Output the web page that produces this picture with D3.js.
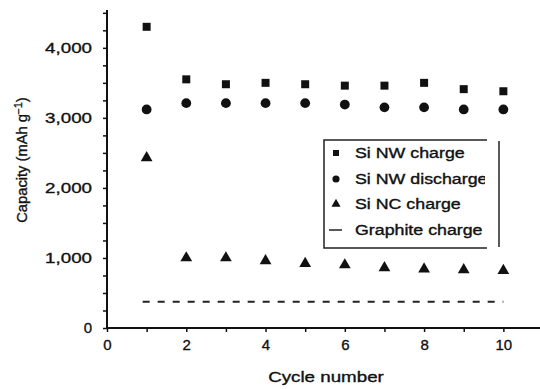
<!DOCTYPE html>
<html><head><meta charset="utf-8">
<script src="https://cdn.jsdelivr.net/npm/d3@7"></script>
<style>body{margin:0;background:#fff}text{font-family:"Liberation Sans",Arial,sans-serif;fill:#111;stroke:#111;stroke-width:0.35px}</style>
</head><body><svg id="c" width="540" height="389"></svg>
<script>
const cycles = [1,2,3,4,5,6,7,8,9,10];
const siNwCharge = [4300,3550,3480,3500,3480,3460,3460,3500,3410,3380];
const siNwDischarge = [3120,3210,3210,3210,3210,3190,3150,3150,3120,3120];
const siNcCharge = [2430,1000,1000,960,920,900,860,840,830,820];
const graphiteCharge = 375;
const graphiteRange = [0.9,10];
const xTicks = [0,2,4,6,8,10];
const yTicks = [0,1000,2000,3000,4000];
const legendLabels = ["Si NW charge","Si NW discharge","Si NC charge","Graphite charge"];

const svg = d3.select("#c");
const x = d3.scaleLinear().domain([0,11]).range([107,543]);
const y = d3.scaleLinear().domain([0,4540]).range([328,10]);

function widen(sel, f){ sel.each(function(){ const w=this.getComputedTextLength(); d3.select(this).attr("textLength",w*f).attr("lengthAdjust","spacingAndGlyphs"); }); }

// X axis
const xMinor = d3.range(0,11,1);
const xa = svg.append("g").attr("transform","translate(0,328)")
  .call(d3.axisBottom(x).tickValues(xMinor).tickSize(4).tickPadding(5)
    .tickFormat(d=>xTicks.includes(d)?d:""));
xa.select(".domain").attr("stroke","#111").attr("stroke-width",2).attr("d","M107,0H540");
xa.selectAll(".tick line").attr("stroke","#111").attr("stroke-width",1.5);
xa.selectAll(".tick text").attr("font-size",15).style("font-family","Liberation Sans, Arial").attr("dy","0.85em");

// Y axis
const yMinor = d3.range(0,4501,250);
const ya = svg.append("g").attr("transform","translate(107,0)")
  .call(d3.axisLeft(y).tickValues(yMinor).tickSize(4).tickPadding(11)
    .tickFormat(d=>yTicks.includes(d)?d3.format(",")(d):""));
ya.select(".domain").attr("stroke","#111").attr("stroke-width",2).attr("d","M0,10V328");
ya.selectAll(".tick line").attr("stroke","#111").attr("stroke-width",1.5);
ya.selectAll(".tick text").attr("font-size",15).style("font-family","Liberation Sans, Arial");
widen(ya.selectAll(".tick text").filter(function(){return this.textContent.length>1;}),1.25);

// Axis titles
const xt = svg.append("text").attr("x",326).attr("y",382).attr("text-anchor","middle").attr("font-size",15).text("Cycle number");
widen(xt,1.25);
const yt = svg.append("text").attr("transform","translate(27,160) rotate(-90)").attr("text-anchor","middle").attr("font-size",14);
yt.append("tspan").text("Capacity (mAh g");
yt.append("tspan").attr("dy",-5).attr("font-size",10).text("−1");
yt.append("tspan").attr("dy",5).text(")");
widen(yt,1.05);

// Graphite dashed line
svg.append("line").attr("x1",x(graphiteRange[0])).attr("x2",x(graphiteRange[1]))
  .attr("y1",y(graphiteCharge)).attr("y2",y(graphiteCharge))
  .attr("stroke","#222").attr("stroke-width",2).attr("stroke-dasharray","7,8");

// markers
const sq = d3.symbol().type(d3.symbolSquare).size(64);
const ci = d3.symbol().type(d3.symbolCircle).size(75);
const tr = d3.symbol().type(d3.symbolTriangle).size(60);
svg.append("g").selectAll("path").data(cycles).join("path")
  .attr("d",sq).attr("transform",(d,i)=>`translate(${x(d)},${y(siNwCharge[i])})`).attr("fill","#111");
svg.append("g").selectAll("path").data(cycles).join("path")
  .attr("d",ci).attr("transform",(d,i)=>`translate(${x(d)},${y(siNwDischarge[i])})`).attr("fill","#111");
svg.append("g").selectAll("path").data(cycles).join("path")
  .attr("d",tr).attr("transform",(d,i)=>`translate(${x(d)},${y(siNcCharge[i])})`).attr("fill","#111");

// Legend
const lg = svg.append("g");
svg.append("defs").append("clipPath").attr("id","lc").append("rect").attr("x",324).attr("y",138).attr("width",161).attr("height",112);
lg.append("path").attr("d","M487,140H324V248H487").attr("fill","none").attr("stroke","#222").attr("stroke-width",1.5);
lg.append("line").attr("x1",499).attr("x2",499).attr("y1",141).attr("y2",247).attr("stroke","#222").attr("stroke-width",1.5);
const ly = [153,179,204,230];
const lsyms = [d3.symbol().type(d3.symbolSquare).size(36),d3.symbol().type(d3.symbolCircle).size(40),d3.symbol().type(d3.symbolTriangle).size(36)];
lsyms.forEach((s,i)=>lg.append("path").attr("d",s).attr("transform",`translate(336,${ly[i]})`).attr("fill","#111"));
lg.append("line").attr("x1",329).attr("x2",342).attr("y1",ly[3]).attr("y2",ly[3]).attr("stroke","#222").attr("stroke-width",1.5);
const lt = lg.append("g").attr("clip-path","url(#lc)");
legendLabels.forEach((t,i)=>lt.append("text").attr("x",355).attr("y",ly[i]+5).attr("font-size",14).text(t));
widen(lt.selectAll("text"),1.27);
</script></body></html>
